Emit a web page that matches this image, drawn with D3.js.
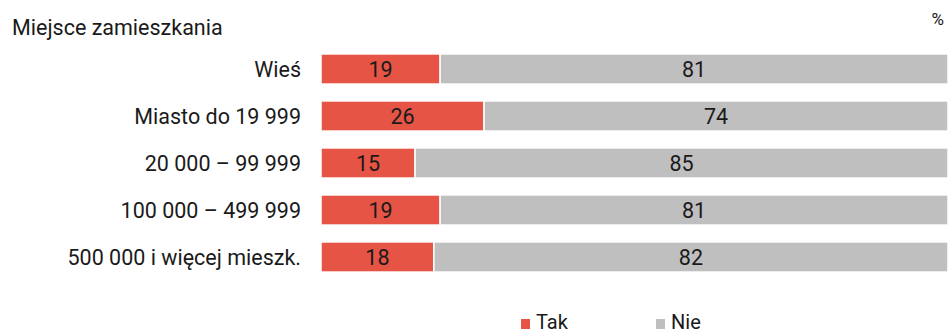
<!DOCTYPE html>
<html>
<head>
<meta charset="UTF-8">
<title>Miejsce zamieszkania</title>
<script src="https://cdn.jsdelivr.net/npm/d3@7"></script>
<style>
  body { margin: 0; background: #fff; }
  svg text { font-family: Roboto, "Noto Sans", sans-serif; fill: #1a1a1a; }
</style>
</head>
<body>
<svg id="chart" width="949" height="335"></svg>
<script>
    var categories = ["Wieś", "Miasto do 19 999", "20 000 – 99 999", "100 000 – 499 999", "500 000 i więcej mieszk."];
    var tak = [19, 26, 15, 19, 18];
    var nie = [81, 74, 85, 81, 82];
    var seriesNames = ["Tak", "Nie"];
    var colors = ["#e55444", "#bfbfbf"];

    var svg = d3.select("svg#chart");

    var x = d3.scaleLinear().domain([0, 100]).range([321, 948]);
    var y = d3.scaleBand().domain(categories).range([45.5, 280.5]).paddingInner(0.36).paddingOuter(0.18);

    svg.append("text")
        .attr("x", 12).attr("y", 35)
        .style("font-size", "21.5px")
        .text("Miejsce zamieszkania");

    svg.append("text")
        .attr("x", 944).attr("y", 25)
        .attr("text-anchor", "end")
        .style("font-size", "17px")
        .text("%");

    var rows = categories.map(function (c, i) {
        return {cat: c, segs: [
            {name: seriesNames[0], x0: 0, x1: tak[i], v: tak[i], color: colors[0]},
            {name: seriesNames[1], x0: tak[i], x1: tak[i] + nie[i], v: nie[i], color: colors[1]}
        ]};
    });

    var row = svg.selectAll("g.row").data(rows).enter().append("g")
        .attr("class", "row")
        .attr("transform", function (d) { return "translate(0," + y(d.cat) + ")"; });

    row.append("text")
        .attr("x", 301)
        .attr("y", y.bandwidth() / 2)
        .attr("dy", "0.35em")
        .attr("text-anchor", "end")
        .style("font-size", "21.5px")
        .text(function (d) { return d.cat; });

    var seg = row.selectAll("g.seg").data(function (d) { return d.segs; }).enter().append("g");

    seg.append("rect")
        .attr("x", function (d) { return x(d.x0); })
        .attr("width", function (d) { return x(d.x1) - x(d.x0); })
        .attr("height", y.bandwidth())
        .attr("fill", function (d) { return d.color; })
        .attr("stroke", "#fff")
        .attr("stroke-width", 1.5);

    seg.append("text")
        .attr("x", function (d) { return (x(d.x0) + x(d.x1)) / 2; })
        .attr("y", y.bandwidth() / 2)
        .attr("dy", "0.35em")
        .attr("text-anchor", "middle")
        .style("font-size", "21.5px")
        .text(function (d) { return d.v; });

    var legendX = [521, 656];
    var leg = svg.selectAll("g.legend").data(seriesNames).enter().append("g")
        .attr("transform", function (d, i) { return "translate(" + legendX[i] + ",0)"; });

    leg.append("rect")
        .attr("x", 0).attr("y", 319)
        .attr("width", 9).attr("height", 10)
        .attr("fill", function (d, i) { return colors[i]; });

    leg.append("text")
        .attr("x", 15).attr("y", 329)
        .style("font-size", "20px")
        .text(function (d) { return d; });
</script>
</body>
</html>
